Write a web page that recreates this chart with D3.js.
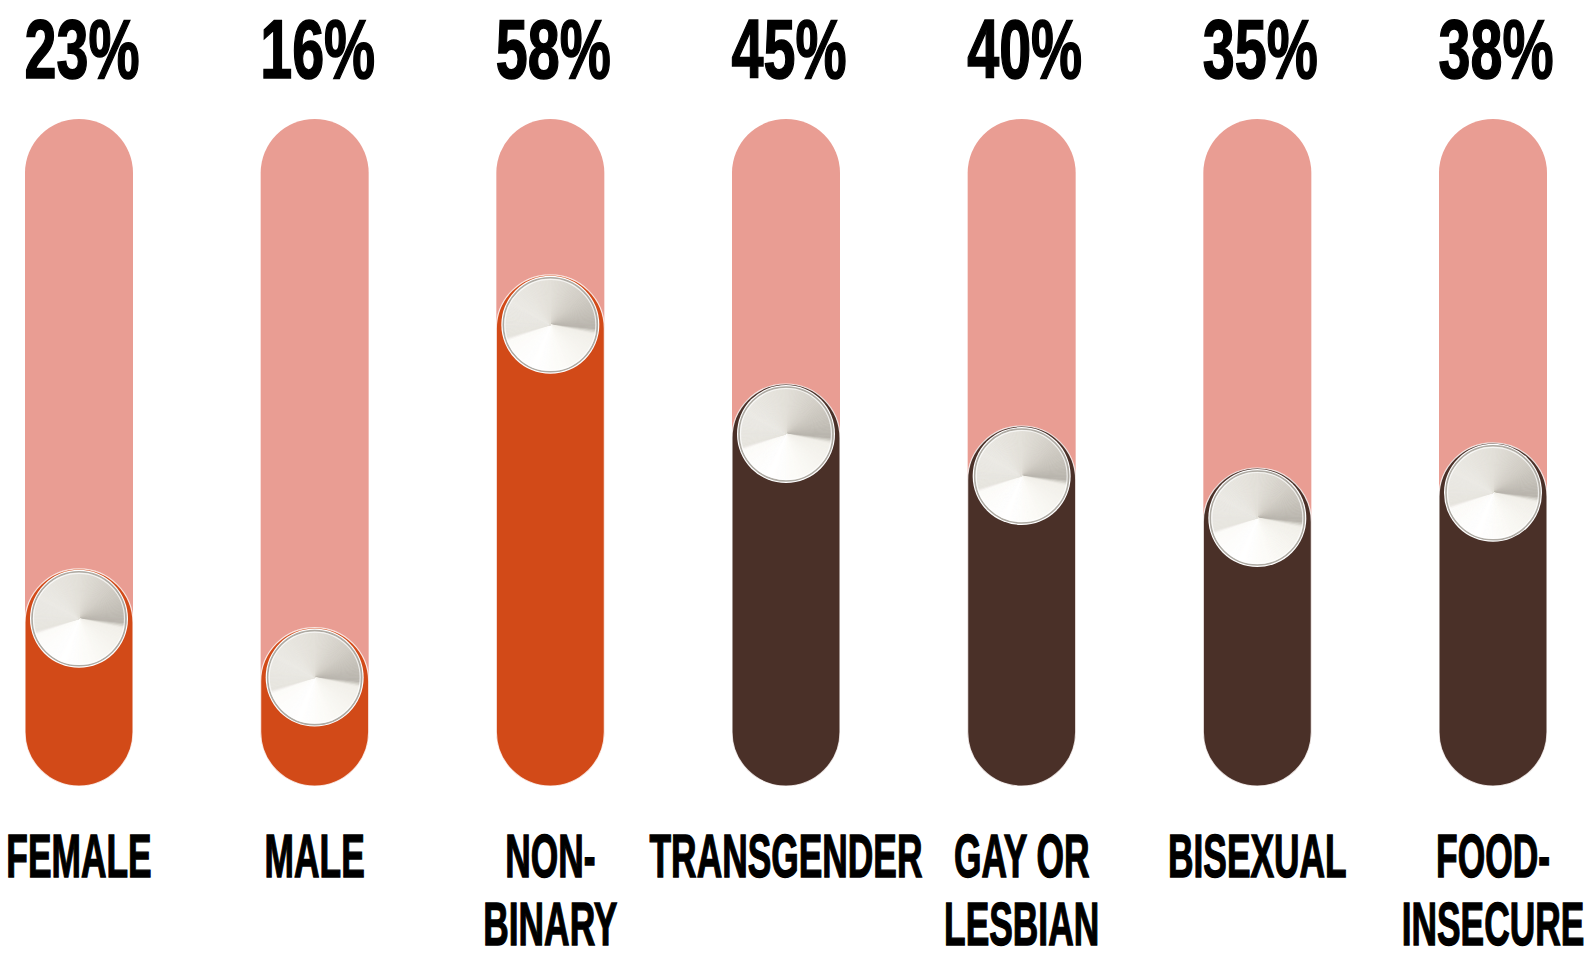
<!DOCTYPE html>
<html>
<head>
<meta charset="utf-8">
<script src="https://cdn.jsdelivr.net/npm/d3@7"></script>
<style>
  html, body { margin: 0; padding: 0; background: #fff; }
  svg { display: block; }
  text { font-family: 'Liberation Sans Narrow', 'Liberation Sans', 'DejaVu Sans Condensed', sans-serif; font-weight: bold; fill: #000; stroke: #000; }
</style>
</head>
<body>
<svg id="chart" width="1596" height="958"></svg>
<script>
// data
const categories = ['Female', 'Male', 'Non-binary', 'Transgender', 'Gay or lesbian', 'Bisexual', 'Food-insecure'];
const labelLines = [['FEMALE'], ['MALE'], ['NON-', 'BINARY'], ['TRANSGENDER'], ['GAY OR', 'LESBIAN'], ['BISEXUAL'], ['FOOD-', 'INSECURE']];
const values = [23, 16, 58, 45, 40, 35, 38];
const groups = ['gender', 'gender', 'gender', 'other', 'other', 'other', 'other'];

const colors = { gender: '#d24a18', other: '#4a3028' };
const trackColor = '#e99d93';

const svg = d3.select('#chart');

const trackW = 108;
const trackTop = 119;
const trackBottom = 786;
const knobR = 48;

const x = d3.scalePoint().domain(categories).range([79, 1493]);
// knob position for a value
const y = d3.scaleLinear().domain([0, 100]).range([812, -28]);

const data = categories.map((c, i) => ({ cat: c, value: values[i], group: groups[i], lines: labelLines[i] }));

// conic "metal" gradient for the knobs, built from thin arc slices
const stopAngles = [0, 50, 95, 102, 160, 200, 250, 254, 300, 360];
const stopColors = ['#e2dfd8', '#d0ccc4', '#b8b4ac', '#f1efe9', '#fbfaf6', '#ffffff', '#fcfbf8', '#e6e4de', '#ebe9e4', '#e2dfd8'];
const knobColor = d3.scaleLinear().domain(stopAngles).range(stopColors).interpolate(d3.interpolateRgb);
const slices = d3.range(0, 360, 2);
const arc = d3.arc().innerRadius(0).outerRadius(knobR - 1);

const g = svg.append('g');

const cols = g.selectAll('g.col')
  .data(data)
  .join('g')
  .attr('class', 'col')
  .attr('transform', d => `translate(${x(d.cat)},0)`);

// track
cols.append('rect')
  .attr('x', -trackW / 2)
  .attr('y', trackTop)
  .attr('width', trackW)
  .attr('height', trackBottom - trackTop)
  .attr('rx', trackW / 2)
  .attr('fill', trackColor);

// fill
cols.append('rect')
  .attr('x', -trackW / 2)
  .attr('y', d => y(d.value) - knobR - 2)
  .attr('width', trackW)
  .attr('height', d => trackBottom - (y(d.value) - knobR - 2))
  .attr('rx', trackW / 2)
  .attr('fill', d => colors[d.group])
  .attr('stroke', '#fff')
  .attr('stroke-opacity', 0.8)
  .attr('stroke-width', 1.2);

// knob
const knob = cols.append('g')
  .attr('transform', d => `translate(0,${y(d.value)})`);

knob.append('circle')
  .attr('r', knobR + 1)
  .attr('fill', '#fff');

knob.selectAll('path')
  .data(slices)
  .join('path')
  .attr('d', a => arc({ startAngle: a * Math.PI / 180, endAngle: (a + 2.3) * Math.PI / 180 }))
  .attr('fill', a => knobColor(a + 1))
  .attr('stroke', a => knobColor(a + 1))
  .attr('stroke-width', 0.6);

knob.append('circle')
  .attr('r', knobR - 1)
  .attr('fill', 'none')
  .attr('stroke', '#aeaaa3')
  .attr('stroke-width', 1.6);

knob.append('circle')
  .attr('r', knobR - 2.5)
  .attr('fill', 'none')
  .attr('stroke', '#ffffff')
  .attr('stroke-opacity', 0.7)
  .attr('stroke-width', 1.2);

// percent labels
const pct = cols.append('text')
  .attr('text-anchor', 'middle')
  .attr('font-size', 84)
  .attr('stroke-width', 1.6)
  .text(d => `${d.value}%`);

// category labels
const lab = cols.append('text')
  .attr('text-anchor', 'middle')
  .attr('font-size', 61)
  .attr('stroke-width', 1.4);
lab.selectAll('tspan')
  .data(d => d.lines)
  .join('tspan')
  .attr('x', 0)
  .attr('y', (l, i) => 877 + i * 68)
  .text(l => l);

// condense the type to look like a narrow display face
const pctW = pct.nodes()[0].getComputedTextLength();
const sxP = 115 / pctW;
pct.attr('transform', `translate(3,78) scale(${sxP},1)`);

const refNode = lab.nodes()[3];
const sxL = 273 / refNode.getComputedTextLength();
lab.attr('transform', `scale(${sxL},1)`);
</script>
</body>
</html>
